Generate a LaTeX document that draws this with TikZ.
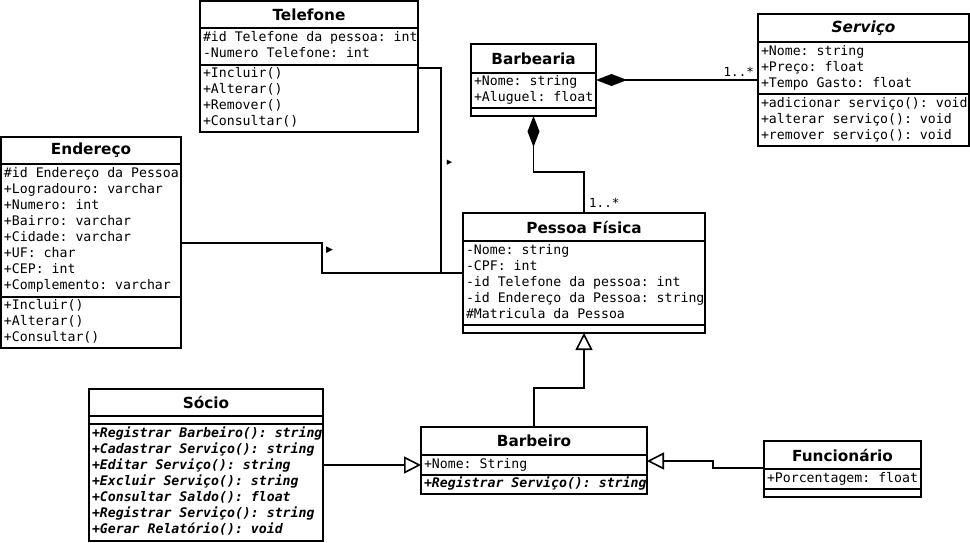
\documentclass[tikz,border=0pt]{standalone}
\usepackage{fontspec}
\setmainfont{DejaVu Sans}
\newfontfamily\monof{DejaVu Sans Mono}
\newfontfamily\titf{DejaVu Sans}
\newcommand\monosp{\frenchspacing\spaceskip=0.602em\relax\xspaceskip=0.602em\relax}
\newcommand\tl[1]{\strut\rlap{#1}}
\usetikzlibrary{arrows.meta}
\tikzset{
  cls/.style={draw, line width=1.6pt, anchor=north west, inner sep=0pt, outer sep=0pt},
  tit/.style={cls, font=\titf\bfseries\fontsize{15.3}{18}\selectfont, align=center},
  cmp/.style={cls, font=\monof\fontsize{13.2}{16}\selectfont, align=flush left, inner xsep=3pt, execute at begin node=\monosp},
  bi/.style={font=\monof\bfseries\itshape\fontsize{13.2}{16}\selectfont},
  lbl/.style={inner sep=0pt, font=\monof\fontsize{12.5}{14}\selectfont},
  tri/.style={inner sep=0pt, font=\fontsize{#1}{#1}\selectfont},
  wire/.style={line width=1.6pt},
  gen/.style={wire, -{Triangle[open, length=17pt, width=17pt, fill=white, line width=1.6pt]}},
  compo/.style={wire, {Diamond[length=31pt, width=12pt]}-},
}
\begin{document}
\begin{tikzpicture}[x=1pt, y=-1pt]
\fill[white] (0,0) rectangle (970,542);
\useasboundingbox (0,0) rectangle (970,542);

% Telefone
\node[tit, minimum width=218pt, minimum height=27pt] (telT) at (200,1) {Telefone};
\node[cmp, minimum width=218pt, text width=212pt, minimum height=37pt] (telA) at (200,28)
  {\tl{\#id Telefone da pessoa: int}\\\tl{-Numero Telefone: int}};
\node[cmp, minimum width=218pt, text width=212pt, minimum height=67pt] (telM) at (200,65)
  {\tl{+Incluir()}\\\tl{+Alterar()}\\\tl{+Remover()}\\\tl{+Consultar()}};

% Barbearia
\node[tit, minimum width=125pt, minimum height=29pt] (barT) at (471,44) {Barbearia};
\node[cmp, minimum width=125pt, text width=119pt, minimum height=35pt] (barA) at (471,73)
  {\tl{+Nome: string}\\\tl{+Aluguel: float}};
\node[cmp, minimum width=125pt, minimum height=8pt] (barM) at (471,108) {};

% Servico
\node[tit, minimum width=211pt, minimum height=28pt] (serT) at (758,14) {\itshape Serviço};
\node[cmp, minimum width=211pt, text width=205pt, minimum height=52pt] (serA) at (758,42)
  {\tl{+Nome: string}\\\tl{+Preço: float}\\\tl{+Tempo Gasto: float}};
\node[cmp, minimum width=211pt, text width=205pt, minimum height=52pt] (serM) at (758,94)
  {\tl{+adicionar serviço(): void}\\\tl{+alterar serviço(): void}\\\tl{+remover serviço(): void}};

% Endereco
\node[tit, minimum width=180pt, minimum height=27pt] (endT) at (1,137) {Endereço};
\node[cmp, minimum width=180pt, text width=174pt, minimum height=133pt] (endA) at (1,164)
  {\tl{\#id Endereço da Pessoa}\\\tl{+Logradouro: varchar}\\\tl{+Numero: int}\\\tl{+Bairro: varchar}\\\tl{+Cidade: varchar}\\\tl{+UF: char}\\\tl{+CEP: int}\\\tl{+Complemento: varchar}};
\node[cmp, minimum width=180pt, text width=174pt, minimum height=51pt] (endM) at (1,297)
  {\tl{+Incluir()}\\\tl{+Alterar()}\\\tl{+Consultar()}};

% Pessoa Fisica
\node[tit, minimum width=242pt, minimum height=28pt] (pesT) at (463,213) {Pessoa Física};
\node[cmp, minimum width=242pt, text width=236pt, minimum height=84pt] (pesA) at (463,241)
  {\tl{-Nome: string}\\\tl{-CPF: int}\\\tl{-id Telefone da pessoa: int}\\\tl{-id Endereço da Pessoa: string}\\\tl{\#Matricula da Pessoa}};
\node[cmp, minimum width=242pt, minimum height=8pt] (pesM) at (463,325) {};

% Socio
\node[tit, minimum width=234pt, minimum height=27pt] (socT) at (89,389) {Sócio};
\node[cmp, minimum width=234pt, minimum height=8pt] (socA) at (89,416) {};
\node[cmp, bi, minimum width=234pt, text width=228pt, minimum height=117pt] (socM) at (89,424)
  {\tl{+Registrar Barbeiro(): string}\\\tl{+Cadastrar Serviço(): string}\\\tl{+Editar Serviço(): string}\\\tl{+Excluir Serviço(): string}\\\tl{+Consultar Saldo(): float}\\\tl{+Registrar Serviço(): string}\\\tl{+Gerar Relatório(): void}};

% Barbeiro
\node[tit, minimum width=226pt, minimum height=28pt] (bbT) at (421,427) {Barbeiro};
\node[cmp, minimum width=226pt, text width=220pt, minimum height=20pt] (bbA) at (421,455)
  {\tl{+Nome: String}};
\node[cmp, bi, minimum width=226pt, text width=220pt, minimum height=19pt] (bbM) at (421,475)
  {\tl{+Registrar Serviço(): string}};

% Funcionario
\node[tit, minimum width=157pt, minimum height=28pt] (funT) at (764,441) {Funcionário};
\node[cmp, minimum width=157pt, text width=151pt, minimum height=20pt] (funA) at (764,469)
  {\tl{+Porcentagem: float}};
\node[cmp, minimum width=157pt, minimum height=8pt] (funM) at (764,489) {};

% connectors
\coordinate (j1) at (441,273);
\coordinate (e1) at (322,243);
\coordinate (e2) at (322,273);
\coordinate (k1) at (533.5,172);
\coordinate (k2) at (534,388);
\coordinate (f1) at (713,468);
\coordinate (f2) at (713,461);

\draw[wire] ([yshift=-3pt]telM.north east) -| (j1) -- ([yshift=10pt]pesA.west);
\draw[wire] ([yshift=-12.5pt]endA.east) -- (e1) -- (e2) -- (j1);
\draw[compo] ([yshift=10.5pt]barA.east) -- ([yshift=-12pt]serA.west);
\draw[compo] (barM.south) -- (k1) -| (pesT.north);
\draw[gen] (bbT.north) -- (k2) -| (pesM.south);
\draw[gen] ([yshift=17.5pt]socM.east) -- (bbA.west);
\draw[gen] ([yshift=1pt]funT.south west) -- (f1) -- (f2) -- ([yshift=4pt]bbA.east);

% labels
\node[lbl, anchor=base east] (m1) at (754,76) {1..*};
\node[lbl, anchor=base west] (m2) at (589,207) {1..*};
\node[tri=7] (t1) at (449.5,163) {▶};
\node[tri=9] (t2) at (329.5,250) {▶};
\end{tikzpicture}
\end{document}
